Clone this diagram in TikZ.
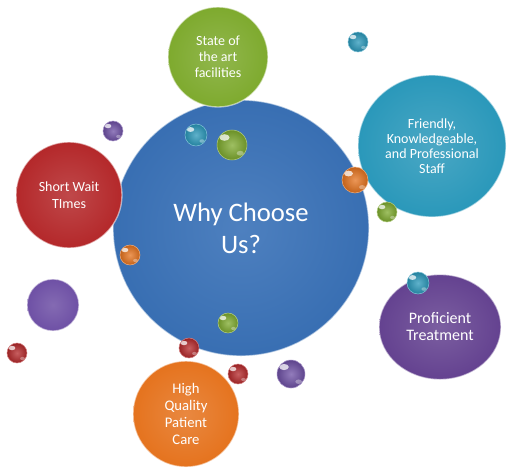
\documentclass[tikz,border=0pt]{standalone}
\usepackage{fontspec}
\setmainfont{Carlito}
\usetikzlibrary{shapes.geometric,calc}
\definecolor{cblue}{RGB}{58,114,184}
\definecolor{cgreen}{RGB}{126,170,46}
\definecolor{cteal}{RGB}{42,152,186}
\definecolor{cred}{RGB}{180,40,42}
\definecolor{cpurple}{RGB}{100,66,144}
\definecolor{corange}{RGB}{229,115,30}
\definecolor{cpurple2}{RGB}{110,80,165}
\begin{document}
\begin{tikzpicture}[x=0.75pt,y=-0.75pt,
  bub/.style={circle, draw=white, draw opacity=0.55, line width=1pt, text=white, align=center, inner sep=0pt},
  ebub/.style={ellipse, draw=white, draw opacity=0.55, line width=1pt, text=white, align=center, inner sep=0pt},
  gem/.style 2 args={circle, inner sep=0pt, minimum size=#1,
     inner color=#2!75!white, outer color=#2!85!black,
     draw=#2!60!white, line width=0.4pt,
     path picture={\fill[white,opacity=.75]
        ($(path picture bounding box.center)!0.5!(path picture bounding box.north west)$)
        ellipse [x radius=#1*0.17, y radius=#1*0.11];
        \fill[white,opacity=.35]
        ($(path picture bounding box.center)!0.55!(path picture bounding box.south east)$)
        ellipse [x radius=#1*0.12, y radius=#1*0.08];}},
  small/.style={font=\fontsize{10.5}{12.75}\selectfont}
]
\useasboundingbox (0,0) rectangle (513,475);
% main circle
\node[bub, minimum size=192pt, inner color=cblue!90!white, outer color=cblue!97!black,
      font=\fontsize{20}{24}\selectfont] (why) at (241,228) {Why Choose\\Us?};
% satellites
\node[bub, minimum size=75pt, inner color=cgreen!85!white, outer color=cgreen,
      font=\fontsize{10.5}{12}\selectfont] (art) at (218,57) {State of\\the art\\facilities};
\node[ebub, minimum width=111pt, minimum height=106.5pt, inner color=cteal!85!white, outer color=cteal,
      font=\fontsize{10.5}{11.25}\selectfont] (staff) at (432,146) {Friendly,\\Knowledgeable,\\and Professional\\Staff};
\node[bub, minimum size=79.5pt, inner color=cred!85!white, outer color=cred,
      small] (wait) at (69,195) {Short Wait\\TImes};
\node[ebub, minimum width=91.5pt, minimum height=78.75pt, inner color=cpurple!85!white, outer color=cpurple,
      font=\fontsize{12}{12.75}\selectfont] (treat) at (440,327) {Proficient\\Treatment};
\node[bub, minimum size=79.5pt, inner color=corange!85!white, outer color=corange,
      font=\fontsize{11}{12.75}\selectfont] (care) at (186,414) {High\\Quality\\Patient\\Care};
\node[bub, minimum size=39pt, inner color=cpurple2!85!white, outer color=cpurple2] (p8) at (53,305) {};
% glossy balls
\node[gem={15pt}{cteal}] (b1) at (358,42) {};
\node[gem={15pt}{cpurple2}] (b2) at (113,131) {};
\node[gem={16.5pt}{cteal}] (b3) at (196,135) {};
\node[gem={22.5pt}{cgreen}] (b4) at (232,145) {};
\node[gem={19.5pt}{corange}] (b5) at (355,180) {};
\node[gem={15pt}{cgreen}] (b6) at (387,212) {};
\node[gem={15pt}{corange}] (b7) at (130,255) {};
\node[gem={15pt}{cred}] (b9) at (17,353) {};
\node[gem={15pt}{cgreen}] (b10) at (228,323) {};
\node[gem={15pt}{cred}] (b11) at (189,348) {};
\node[gem={15pt}{cred}] (b12) at (238,374) {};
\node[gem={21pt}{cpurple2}] (b13) at (291,374) {};
\node[gem={16.5pt}{cteal}] (b14) at (418,283) {};
\end{tikzpicture}
\end{document}
